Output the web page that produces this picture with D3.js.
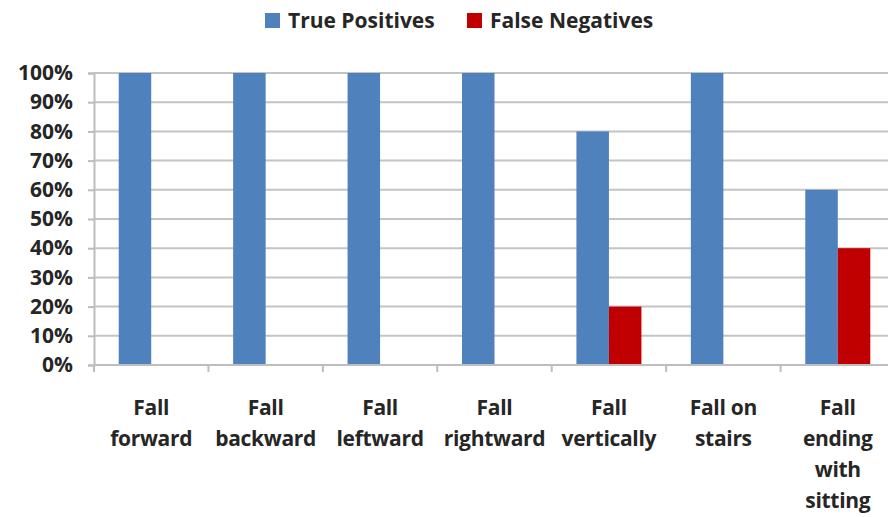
<!DOCTYPE html>
<html>
<head>
<meta charset="utf-8">
<script src="https://cdn.jsdelivr.net/npm/d3@7"></script>
<style>
  body { margin: 0; background: #fff; }
  text { font-family: "Open Sans", Lato, sans-serif; font-weight: bold; fill: #262626; }
</style>
</head>
<body>
<svg class="chart"></svg>
<script>
var categories = ["Fall forward", "Fall backward", "Fall leftward", "Fall rightward",
                  "Fall vertically", "Fall on stairs", "Fall ending with sitting"];
var labelLines = [["Fall", "forward"], ["Fall", "backward"], ["Fall", "leftward"], ["Fall", "rightward"],
                  ["Fall", "vertically"], ["Fall on", "stairs"], ["Fall", "ending", "with", "sitting"]];
var series = ["True Positives", "False Negatives"];
var truePositives = [1.0, 1.0, 1.0, 1.0, 0.8, 1.0, 0.6];
var falseNegatives = [0, 0, 0, 0, 0.2, 0, 0.4];
var colors = ["#4f81bd", "#c00000"];

var width = 888, height = 517;
var margin = {top: 73, left: 94, bottom: 152};
var plotRight = 895; // plot runs off the right edge in the original

var svg = d3.select(".chart").attr("width", width).attr("height", height);

var x = d3.scaleBand().domain(categories).range([margin.left, plotRight]).padding(0);
var x1 = d3.scaleBand().domain(series).range([0, x.bandwidth()]).paddingInner(0).paddingOuter(0.76);
var y = d3.scaleLinear().domain([0, 1]).range([height - margin.bottom, margin.top]);

// gridlines
svg.append("g")
  .selectAll("line")
  .data(y.ticks(10).slice(1))
  .enter().append("line")
    .attr("x1", margin.left).attr("x2", width)
    .attr("y1", function(d) { return y(d); }).attr("y2", function(d) { return y(d); })
    .attr("stroke", "#c4c4c4").attr("stroke-width", 2);

// y axis
var yAxis = svg.append("g")
  .attr("transform", "translate(" + margin.left + ",0)")
  .call(d3.axisLeft(y).ticks(10, ".0%").tickSize(6).tickPadding(15));
yAxis.select(".domain").attr("stroke", "#bdbdbd").attr("stroke-width", 2);
yAxis.selectAll(".tick line").attr("stroke", "#bdbdbd").attr("stroke-width", 2);
yAxis.selectAll("text").attr("font-size", 21).attr("fill", "#262626");

// bars
var rows = categories.map(function(c, i) { return {cat: c, vals: [truePositives[i], falseNegatives[i]]}; });
var group = svg.append("g").selectAll("g")
  .data(rows).enter().append("g")
  .attr("transform", function(d) { return "translate(" + x(d.cat) + ",0)"; });
group.selectAll("rect")
  .data(function(d) { return d.vals.map(function(v, j) { return {s: series[j], v: v, j: j}; }); })
  .enter().append("rect")
    .attr("x", function(d) { return x1(d.s); })
    .attr("width", x1.bandwidth())
    .attr("y", function(d) { return y(d.v); })
    .attr("height", function(d) { return y(0) - y(d.v); })
    .attr("fill", function(d) { return colors[d.j]; });

// x axis line and category ticks
var base = y(0);
svg.append("line")
  .attr("x1", margin.left).attr("x2", width).attr("y1", base).attr("y2", base)
  .attr("stroke", "#bdbdbd").attr("stroke-width", 2);
svg.append("g").selectAll("line")
  .data(categories).enter().append("line")
    .attr("x1", function(d) { return x(d); }).attr("x2", function(d) { return x(d); })
    .attr("y1", base).attr("y2", base + 7)
    .attr("stroke", "#bdbdbd").attr("stroke-width", 2);

// category labels
var lab = svg.append("g").selectAll("text")
  .data(categories).enter().append("text")
    .attr("text-anchor", "middle")
    .attr("font-size", 21)
    .style("letter-spacing", "-0.3px")
    .attr("x", function(d) { return x(d) + x.bandwidth() / 2; })
    .attr("y", base + 50);
lab.selectAll("tspan")
  .data(function(d, i) { return labelLines[i]; })
  .enter().append("tspan")
    .attr("x", function() { return d3.select(this.parentNode).attr("x"); })
    .attr("dy", function(d, i) { return i === 0 ? 0 : 31; })
    .text(function(d) { return d; });

// legend
var legendX = [265, 467];
var leg = svg.append("g").selectAll("g")
  .data(series).enter().append("g")
  .attr("transform", function(d, i) { return "translate(" + legendX[i] + ",13)"; });
leg.append("rect").attr("width", 15).attr("height", 15)
  .attr("fill", function(d, i) { return colors[i]; });
leg.append("text").attr("x", 23).attr("y", 15).attr("font-size", 21)
  .text(function(d) { return d; });
</script>
</body>
</html>
